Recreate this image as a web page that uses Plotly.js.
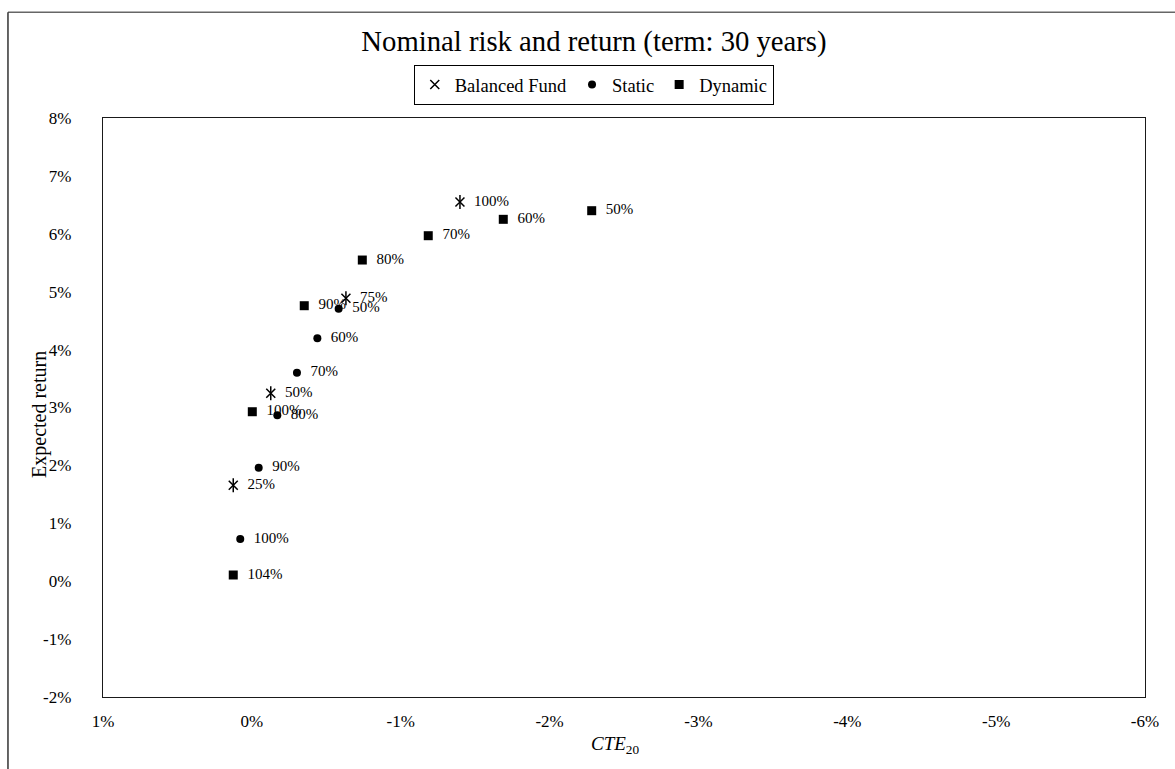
<!DOCTYPE html>
<html>
<head>
<meta charset="utf-8">
<script src="https://cdn.plot.ly/plotly-3.0.1.min.js"></script>
<style>
  html, body { margin: 0; padding: 0; background: #fff; }
  #chart { width: 1175px; height: 769px; }
</style>
</head>
<body>
<div id="chart"></div>
<script>
// Risk (CTE20) and expected return, both in percent
const balancedLabels = ["25%", "50%", "75%", "100%"];
const balancedCte = [0.125, -0.127, -0.632, -1.398];
const balancedReturn = [1.656, 3.245, 4.886, 6.549];

const staticLabels = ["50%", "60%", "70%", "80%", "90%", "100%"];
const staticCte = [-0.583, -0.44, -0.303, -0.171, -0.046, 0.078];
const staticReturn = [4.706, 4.195, 3.601, 2.865, 1.96, 0.729];

const dynamicLabels = ["50%", "60%", "70%", "80%", "90%", "100%", "104%"];
const dynamicCte = [-2.283, -1.689, -1.185, -0.742, -0.352, -0.003, 0.125];
const dynamicReturn = [6.399, 6.25, 5.967, 5.547, 4.758, 2.927, 0.107];

const xTicks = [1, 0, -1, -2, -3, -4, -5, -6];
const yTicks = [-2, -1, 0, 1, 2, 3, 4, 5, 6, 7, 8];
const pct = v => v + "%";

const SERIF = "Liberation Serif, Times New Roman, serif";
const labelFont = { family: SERIF, size: 15, color: "#000" };
const pad = "\u00a0\u00a0%{text}";

const traces = [
  {
    name: "Balanced Fund", type: "scatter", mode: "markers+text",
    x: balancedCte, y: balancedReturn, text: balancedLabels,
    texttemplate: pad, textposition: "middle right", textfont: labelFont,
    marker: { symbol: "x-thin-open", size: 9, color: "#000", line: { width: 1.5, color: "#000" } },
    hoverinfo: "skip"
  },
  {
    // vertical stroke completing the six-armed star
    name: "Balanced Fund", type: "scatter", mode: "markers", showlegend: false,
    x: balancedCte, y: balancedReturn,
    marker: { symbol: "line-ns-open", size: 10, color: "#000", line: { width: 1.5, color: "#000" } },
    hoverinfo: "skip"
  },
  {
    name: "Static", type: "scatter", mode: "markers+text",
    x: staticCte, y: staticReturn, text: staticLabels,
    texttemplate: pad, textposition: "middle right", textfont: labelFont,
    marker: { symbol: "circle", size: 8, color: "#000" },
    hoverinfo: "skip"
  },
  {
    name: "Dynamic", type: "scatter", mode: "markers+text",
    x: dynamicCte, y: dynamicReturn, text: dynamicLabels,
    texttemplate: pad, textposition: "middle right", textfont: labelFont,
    marker: { symbol: "square", size: 9, color: "#000" },
    hoverinfo: "skip"
  }
];

const layout = {
  width: 1175, height: 769,
  paper_bgcolor: "#fff", plot_bgcolor: "#fff",
  font: { family: SERIF, size: 17, color: "#000" },
  margin: { l: 103, r: 30, t: 118, b: 72, pad: 0 },
  title: {
    text: "Nominal risk and return (term: 30 years)",
    font: { family: SERIF, size: 28.7, color: "#000" },
    x: 0.5055, xref: "container", xanchor: "center",
    y: 0.9467, yref: "container", yanchor: "middle"
  },
  showlegend: true,
  legend: {
    orientation: "h", x: 0.471, xanchor: "center", y: 1.0915, yanchor: "top",
    bordercolor: "#000", borderwidth: 1, bgcolor: "#fff",
    font: { family: SERIF, size: 18.5, color: "#000" },
    itemwidth: 30, tracegroupgap: 0
  },
  xaxis: {
    range: [1, -6], autorange: false,
    tickvals: xTicks, ticktext: xTicks.map(pct),
    showgrid: false, zeroline: false, ticks: "",
    showline: true, mirror: true, linecolor: "#1a1a1a", linewidth: 1.2,
    tickfont: { family: SERIF, size: 17, color: "#000" },
    ticklabelstandoff: 8
  },
  yaxis: {
    range: [-2, 8], autorange: false,
    tickvals: yTicks, ticktext: yTicks.map(pct),
    showgrid: false, zeroline: false, ticks: "",
    showline: true, mirror: true, linecolor: "#1a1a1a", linewidth: 1.2,
    tickfont: { family: SERIF, size: 17, color: "#000" },
    ticklabelstandoff: 27
  },
  annotations: [
    {
      text: "<i>CTE</i><sub>20</sub>", xref: "paper", yref: "paper",
      x: 0.4923, y: -0.0829, xanchor: "center", yanchor: "middle", showarrow: false,
      font: { family: SERIF, size: 19, color: "#000" }
    },
    {
      text: "Expected return", xref: "paper", yref: "paper", textangle: -90,
      x: -0.0605, y: 0.4888, xanchor: "center", yanchor: "middle", showarrow: false,
      font: { family: SERIF, size: 20, color: "#000" }
    }
  ],
  shapes: [
    // outer frame around the whole figure
    { type: "line", xref: "paper", yref: "paper", x0: -0.0912, x1: 1.2, y0: 1.1826, y1: 1.1826,
      line: { color: "#666", width: 1.5 } },
    { type: "line", xref: "paper", yref: "paper", x0: -0.0912, x1: -0.0912, y0: 1.1826, y1: -0.2,
      line: { color: "#333", width: 1.5 } }
  ]
};

Plotly.newPlot("chart", traces, layout, { displayModeBar: false, staticPlot: true });
</script>
</body>
</html>
